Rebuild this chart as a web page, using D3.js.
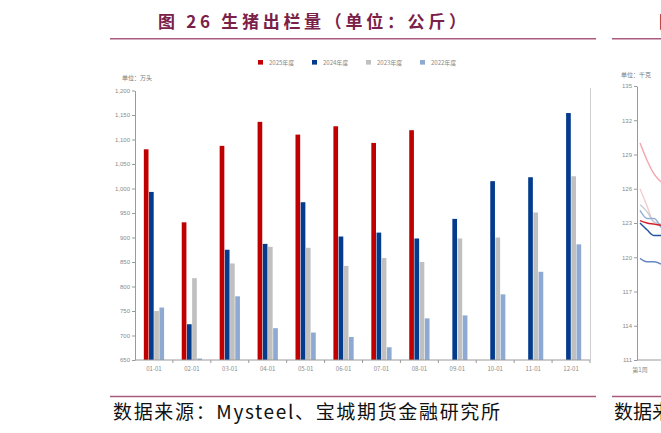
<!DOCTYPE html>
<html lang="zh-CN">
<head>
<meta charset="UTF-8">
<title>生猪出栏量</title>
<script src="https://cdn.jsdelivr.net/npm/d3@7/dist/d3.min.js"></script>
<style>
    body { margin: 0; background: #fff; }
    svg { display: block; font-family: "Noto Sans CJK SC", "Noto Sans", sans-serif; }
    .axis text { fill: #8a8a8a; font-size: 6px; }
    .axis path, .axis line { stroke: #9a9a9a; }
</style>
</head>
<body>
<svg id="chart" width="661" height="433"></svg>
<script>
// 月度出栏量（万头）
const months = ["01-01","02-01","03-01","04-01","05-01","06-01","07-01","08-01","09-01","10-01","11-01","12-01"];
const seriesNames = ["2025年度","2024年度","2023年度","2022年度"];
const colors = ["#c00000","#043b8c","#c0c0c0","#8eaad2"];
const v2025 = [1080, 931, 1087, 1136, 1110, 1127, 1093, 1119, null, null, null, null];
const v2024 = [993, 723, 875, 887, 972, 902, 910, 898, 938, 1015, 1023, 1154];
const v2023 = [750, 817, 847, 881, 879, 842, 858, 850, 898, 900, 951, 1025];
const v2022 = [757, 653, 780, 715, 706, 697, 676, 735, 741, 784, 830, 886];
const yTicks = [650, 700, 750, 800, 850, 900, 950, 1000, 1050, 1100, 1150, 1200];

// 右侧被裁切的相邻图（出栏均重，千克）
const weeks = [1, 2, 3, 4];
const rTicks = [111, 114, 117, 120, 123, 126, 129, 132, 135];
const rLines = [
    { color: "#f4a4ad", vals: [130.0, 128.5, 127.3, 126.6] },
    { color: "#f3cdd0", vals: [126.0, 124.5, 123.0, 122.8] },
    { color: "#c8ccd4", vals: [124.6, 124.0, 123.1, 122.9] },
    { color: "#93acd8", vals: [124.1, 123.4, 123.4, 122.6] },
    { color: "#d0202c", vals: [123.2, 123.0, 122.9, 122.8] },
    { color: "#2552a0", vals: [123.0, 122.4, 121.9, 121.9] },
    { color: "#6585c6", vals: [119.9, 119.6, 119.6, 119.4] }
];

const svg = d3.select("#chart");
const maroon = "#7a2149";
const ruleColor = "#a95a7d";

// 标题与分隔线
svg.append("text").attr("x", 158).attr("y", 28)
    .attr("font-size", 17).attr("font-weight", 700).attr("fill", maroon)
    .attr("letter-spacing", 3.7)
    .text("图 26 生猪出栏量（单位：公斤）");
svg.append("text").attr("x", 659).attr("y", 28)
    .attr("font-size", 17).attr("font-weight", 700).attr("fill", maroon)
    .text("图");
[[110, 596], [612, 661]].forEach(([a, b]) => {
    svg.append("line").attr("x1", a).attr("x2", b).attr("y1", 38.7).attr("y2", 38.7)
        .attr("stroke", ruleColor).attr("stroke-width", 1.5);
    svg.append("line").attr("x1", a).attr("x2", b).attr("y1", 396.5).attr("y2", 396.5)
        .attr("stroke", ruleColor).attr("stroke-width", 1.5);
});
svg.append("text").attr("x", 113).attr("y", 419)
    .attr("font-size", 19).attr("fill", "#111")
    .attr("textLength", 387).attr("lengthAdjust", "spacing")
    .text("数据来源：Mysteel、宝城期货金融研究所");
svg.append("text").attr("x", 614).attr("y", 419)
    .attr("font-size", 19).attr("fill", "#111")
    .text("数据来源");

// 主图
const x0 = d3.scaleBand().domain(months).range([135, 590]).paddingInner(0.438).paddingOuter(0.219);
const x1 = d3.scaleBand().domain(seriesNames).range([0, x0.bandwidth()]).padding(0.1);
const y = d3.scaleLinear().domain([650, 1200]).range([360, 90.5]);

const rows = months.map((m, i) => ({ m, vals: [v2025[i], v2024[i], v2023[i], v2022[i]] }));

const groups = svg.append("g").selectAll("g").data(rows).join("g")
    .attr("transform", d => `translate(${x0(d.m)},0)`);
groups.selectAll("rect")
    .data(d => d.vals.map((v, k) => ({ v, k })).filter(e => e.v != null))
    .join("rect")
    .attr("x", e => x1(seriesNames[e.k]))
    .attr("width", x1.bandwidth())
    .attr("y", e => y(e.v))
    .attr("height", e => y(650) - y(e.v))
    .attr("fill", e => colors[e.k]);

svg.append("g").attr("class", "axis").attr("transform", "translate(135,0)")
    .call(d3.axisLeft(y).tickValues(yTicks).tickSize(3).tickSizeOuter(0).tickPadding(2).tickFormat(d3.format(",")));

const xAxis = svg.append("g").attr("class", "axis").attr("transform", "translate(0,360)");
xAxis.append("line").attr("x1", 135).attr("x2", 590).attr("stroke", "#9a9a9a");
xAxis.selectAll(".bt").data(d3.range(1, months.length + 1)).join("line")
    .attr("x1", i => x0.range()[0] + i * x0.step())
    .attr("x2", i => x0.range()[0] + i * x0.step())
    .attr("y2", 3).attr("stroke", "#9a9a9a");
xAxis.selectAll(".lb").data(months).join("text")
    .attr("x", m => x0(m) + x0.bandwidth() / 2).attr("y", 10.5)
    .attr("text-anchor", "middle").text(m => m);

svg.append("line").attr("x1", 590.5).attr("x2", 590.5).attr("y1", 88).attr("y2", 362)
    .attr("stroke", "#cfcfcf");

svg.append("text").attr("x", 122).attr("y", 80).attr("font-size", 6).attr("fill", "#777").text("单位：万头");

const legend = svg.append("g").selectAll("g").data(seriesNames).join("g")
    .attr("transform", (d, i) => `translate(${258 + i * 54},60)`);
legend.append("rect").attr("width", 5).attr("height", 4.6).attr("fill", (d, i) => colors[i]);
legend.append("text").attr("x", 11).attr("y", 4.5).attr("font-size", 6).attr("fill", "#888").text(d => d);

// 右侧裁切图
const rx = d3.scaleLinear().domain([1, 4]).range([640, 661]);
const ry = d3.scaleLinear().domain([111, 135]).range([360, 86]);
svg.append("g").attr("class", "axis").attr("transform", "translate(637,0)")
    .call(d3.axisLeft(ry).tickValues(rTicks).tickSize(3).tickSizeOuter(0).tickPadding(2));
svg.append("line").attr("x1", 637).attr("x2", 661).attr("y1", 360).attr("y2", 360).attr("stroke", "#9a9a9a");
svg.append("text").attr("x", 640).attr("y", 372).attr("text-anchor", "middle")
    .attr("font-size", 6).attr("fill", "#888").text("第" + weeks[0] + "周");
svg.append("text").attr("x", 621).attr("y", 77).attr("font-size", 6).attr("fill", "#777").text("单位：千克");
const line = d3.line().x((v, i) => rx(weeks[i])).y(v => ry(v)).curve(d3.curveMonotoneX);
svg.append("g").selectAll("path").data(rLines).join("path")
    .attr("d", d => line(d.vals)).attr("fill", "none")
    .attr("stroke", d => d.color).attr("stroke-width", 1.4);
</script>
</body>
</html>
